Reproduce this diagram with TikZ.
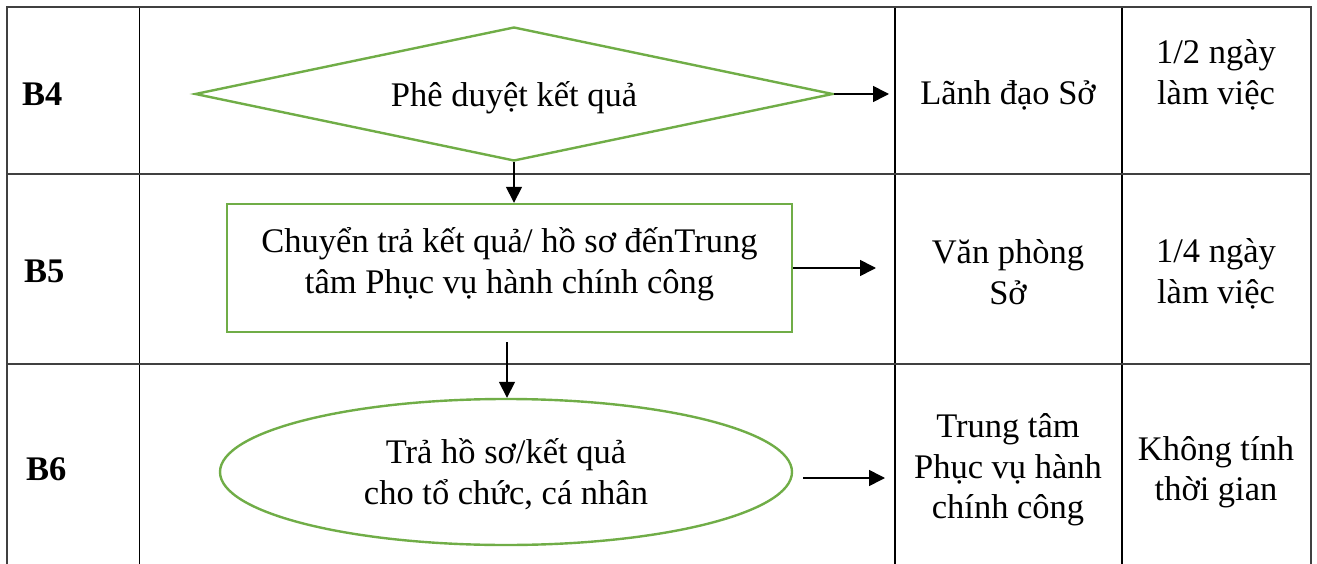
\documentclass[tikz,border=0pt]{standalone}
\usepackage{fontspec}
\setmainfont{Liberation Serif}
\usetikzlibrary{shapes.geometric,arrows.meta}
\definecolor{grn}{HTML}{70AD47}
\definecolor{frame}{HTML}{404040}
\newcommand{\shiftbox}[2]{\raisebox{#1}[\height][\depth]{#2}}
\begin{document}
\begin{tikzpicture}[x=1pt,y=-1pt,
  font=\fontsize{34.5}{40.5}\selectfont,
  outer/.style={draw=frame,line width=2pt},
  inner/.style={draw=black,line width=1.3pt},
  shp/.style={draw=grn,line width=2.4pt,inner sep=0pt,align=center},
  arr/.style={draw=black,line width=1.6pt,-{Triangle[length=16pt,width=16pt]}},
  txt/.style={align=center,inner sep=0pt},
  lbl/.style={anchor=west,inner sep=0pt,font=\fontsize{34.5}{40}\selectfont\bfseries}]
\useasboundingbox (0,0) rectangle (1317,564);
% table
\draw[inner] (139.5,7) -- (139.5,564);
\draw[inner] (895,7) -- (895,564);
\draw[inner] (1122,7) -- (1122,564);
\draw[outer] (7,174.5) -- (1311,174.5);
\draw[outer] (7,363.5) -- (1311,363.5);
\draw[outer] (7,564) -- (7,7) -- (1311,7) -- (1311,564);
% step labels
\node[lbl] (b4) at (22,94) {B4};
\node[lbl] (b5) at (24,271) {B5};
\node[lbl] (b6) at (26,469) {B6};
% shapes
\node[shp,diamond,aspect=4.76,minimum width=638pt,minimum height=134pt] (d) at (514,94) {\shiftbox{-4pt}{Phê duyệt kết quả}};
\node[shp,rectangle,minimum width=565pt,minimum height=128pt] (r) at (509.5,268) {\shiftbox{3pt}{\begin{tabular}{@{}c@{}}Chuyển trả kết quả/ hồ sơ đếnTrung\\[1pt]tâm Phục vụ hành chính công\end{tabular}}};
\node[shp,ellipse,minimum width=572pt,minimum height=146pt] (e) at (506,472) {\shiftbox{-4pt}{\begin{tabular}{@{}c@{}}Trả hồ sơ/kết quả\\cho tổ chức, cá nhân\end{tabular}}};
% roles and times
\node[txt] (r4) at (1008,95) {Lãnh đạo Sở};
\node[txt] (r5) at (1008,272) {Văn phòng\\Sở};
\node[txt] (r6) at (1008,470) {Trung tâm\\Phục vụ hành\\chính công};
\node[txt] (t4) at (1216,75) {1/2 ngày\\làm việc};
\node[txt] (t5) at (1216,274) {1/4 ngày\\làm việc};
\node[txt] (t6) at (1216,472) {Không tính\\thời gian};
% connectors
\coordinate (a4) at (889,94);
\coordinate (a5) at (876,268);
\coordinate (s6) at (507,342);
\coordinate (a6s) at (803,478);
\coordinate (a6) at (885,478);
\draw[arr] (d.east) -- (a4);
\draw[arr] (d.south) -- (d.south |- r.north);
\draw[arr] (r.east) -- (a5);
\draw[arr] (s6) -- (s6 |- e.north);
\draw[arr] (a6s) -- (a6);
\end{tikzpicture}
\end{document}
